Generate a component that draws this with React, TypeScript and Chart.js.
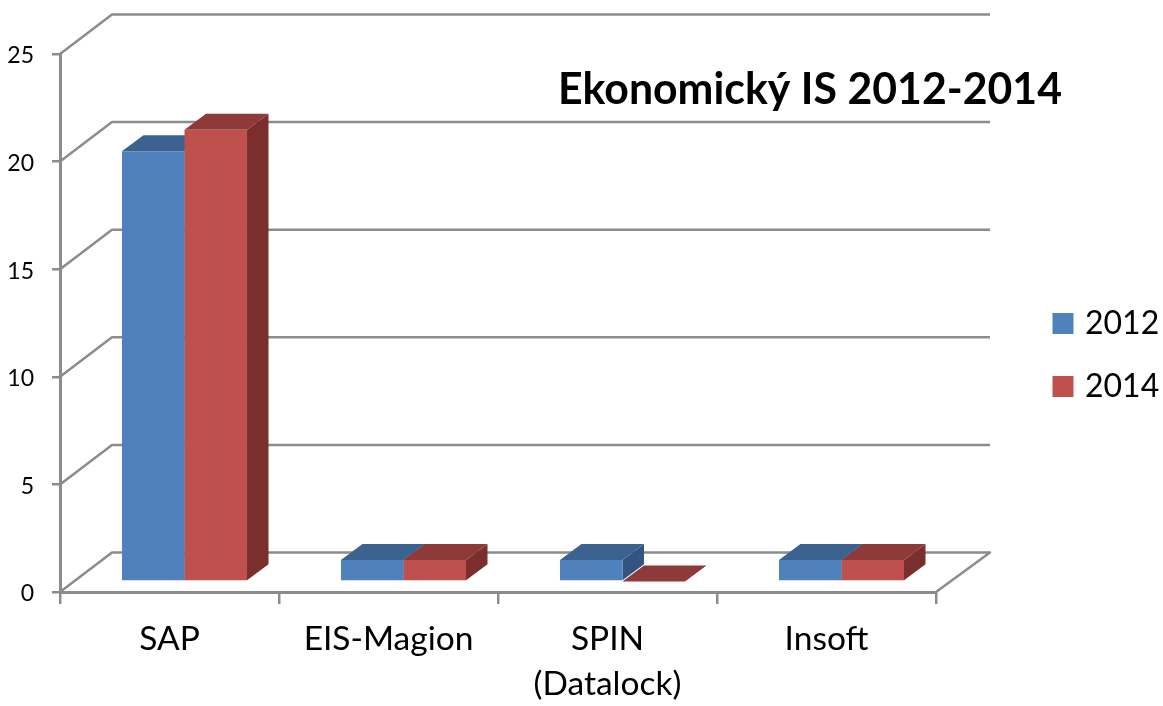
import React, { useEffect, useRef } from "react";
import { Chart, registerables } from "chart.js";

Chart.register(...registerables);

const categories: (string | string[])[] = ["SAP", "EIS-Magion", ["SPIN", "(Datalock)"], "Insoft"];
const values2012 = [20, 1, 1, 1];
const values2014 = [21, 1, 0, 1];
const titleText = "Ekonomický IS 2012-2014";

const BLUE = "#4F81BD";
const RED = "#C0504D";
const GRID = "#8C8C8C";
const FONT = "Lato, Carlito, sans-serif";
const TOP_COLORS = ["#3C628F", "#8E3A38"];
const SIDE_COLORS = ["#32557F", "#7A2F2D"];

// Projection of the 3D box: bars stand on a plane shifted from the front axis
const SHIFT_X = 15;
const SHIFT_Y = -10.4;
const BAR_DX = 21.5;
const BAR_DY = -16;
const WALL_DX = 52;
const WALL_DY = -39.5;

const wallPlugin = {
  id: "walls",
  beforeDatasetsDraw(chart: any) {
    const { ctx, chartArea, scales } = chart;
    const y = scales.y;
    ctx.save();
    ctx.strokeStyle = GRID;
    ctx.lineWidth = 2.5;
    ctx.lineJoin = "round";
    for (const v of y.ticks.map((t: any) => t.value)) {
      const py = y.getPixelForValue(v);
      ctx.beginPath();
      ctx.moveTo(chartArea.left, py);
      ctx.lineTo(chartArea.left + WALL_DX, py + WALL_DY);
      ctx.lineTo(chartArea.right + WALL_DX + 2, py + WALL_DY);
      if (v === 0) ctx.lineTo(chartArea.right, py);
      ctx.stroke();
    }
    ctx.restore();

    // side and top faces of every bar, series by series, behind all the front faces
    ctx.save();
    ctx.translate(SHIFT_X, SHIFT_Y);
    chart.data.datasets.forEach((_: any, index: number) => {
      const meta = chart.getDatasetMeta(index);
      for (const el of meta.data) {
        const l = el.x - el.width / 2;
        const r = el.x + el.width / 2;
        const t = el.y;
        const b = el.base;
        ctx.fillStyle = SIDE_COLORS[index];
        ctx.beginPath();
        ctx.moveTo(r, t);
        ctx.lineTo(r + BAR_DX, t + BAR_DY);
        ctx.lineTo(r + BAR_DX, b + BAR_DY);
        ctx.lineTo(r, b);
        ctx.closePath();
        ctx.fill();
        ctx.fillStyle = TOP_COLORS[index];
        ctx.beginPath();
        ctx.moveTo(l, t);
        ctx.lineTo(l + BAR_DX, t + BAR_DY);
        ctx.lineTo(r + BAR_DX, t + BAR_DY);
        ctx.lineTo(r, t);
        ctx.closePath();
        ctx.fill();
      }
    });
    ctx.restore();
  },
  beforeDatasetDraw(chart: any) {
    chart.ctx.save();
    chart.ctx.translate(SHIFT_X, SHIFT_Y);
  },
  afterDatasetDraw(chart: any) {
    chart.ctx.restore();
  },
  afterLayout(chart: any) {
    const lg = chart.legend;
    if (lg) {
      const w = lg.width;
      const h = lg.height;
      lg.left = 1026;
      lg.right = lg.left + w;
      lg.top = 276.5;
      lg.bottom = lg.top + h;
    }
    const tb = chart.titleBlock;
    if (tb) {
      const h = tb.height;
      tb.left = 558;
      tb.right = 1062;
      tb.width = 504;
      tb.top = 63;
      tb.bottom = tb.top + h;
    }
  },
};

export default function App() {
  const ref = useRef<HTMLCanvasElement>(null);
  useEffect(() => {
    const chart = new Chart(ref.current as HTMLCanvasElement, {
      type: "bar",
      data: {
        labels: categories as any,
        datasets: [
          { label: "2012", data: values2012, backgroundColor: BLUE, clip: false } as any,
          { label: "2014", data: values2014, backgroundColor: RED, clip: false } as any,
        ],
      },
      plugins: [wallPlugin as any],
      options: {
        responsive: false,
        animation: false,
        layout: { padding: { top: 0, right: 227, left: 0, bottom: 0 } },
        datasets: { bar: { categoryPercentage: 0.571, barPercentage: 1 } },
        plugins: {
          tooltip: { enabled: false },
          title: {
            display: true,
            text: titleText,
            color: "#000000",
            font: { family: FONT, size: 43, weight: "bold", lineHeight: 1.2 },
            padding: { top: 1, bottom: 1.4 },
          },
          legend: {
            position: "chartArea" as any,
            align: "start",
            labels: {
              usePointStyle: true,
              pointStyle: "rect",
              boxWidth: 12,
              boxHeight: 21,
              padding: 31,
              color: "#000000",
              font: { family: FONT, size: 32 },
            },
          },
        },
        scales: {
          x: {
            afterFit(s: any) { s.height = 114; },
            grid: { drawOnChartArea: false, drawTicks: true, tickLength: 12, color: GRID, lineWidth: 2.5 },
            border: { color: GRID, width: 3 },
            ticks: { color: "#000000", font: { family: FONT, size: 33.5, lineHeight: 1.34 }, padding: 13, maxRotation: 0 },
          },
          y: {
            min: 0,
            max: 25,
            afterFit(s: any) { s.width = 60; },
            grid: { drawOnChartArea: false, drawTicks: true, tickLength: 8, color: GRID, lineWidth: 2.5 },
            border: { color: GRID, width: 3 },
            ticks: { stepSize: 5, color: "#000000", font: { family: FONT, size: 23 }, padding: 18, labelOffset: 2 },
          },
        },
      },
    });
    return () => chart.destroy();
  }, []);
  return (
    <canvas
      ref={ref}
      width={1163}
      height={706}
      style={{ position: "fixed", left: 0, top: 0, display: "block", background: "#ffffff" }}
    />
  );
}
